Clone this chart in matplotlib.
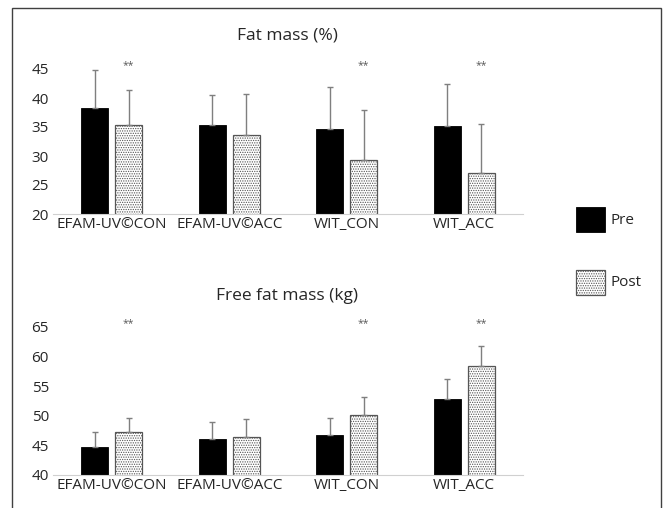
import numpy as np
import matplotlib
matplotlib.use("Agg")
import matplotlib.pyplot as plt
from matplotlib.patches import Rectangle

plt.rcParams['font.family'] = ['Open Sans', 'DejaVu Sans']
plt.rcParams['hatch.linewidth'] = 0.6

groups = ['EFAM-UV©CON', 'EFAM-UV©ACC', 'WIT_CON', 'WIT_ACC']

fat_pre = [38.3, 35.4, 34.7, 35.1]
fat_pre_err = [6.5, 5.1, 7.2, 7.3]
fat_post = [35.4, 33.7, 29.3, 27.0]
fat_post_err = [6.0, 7.0, 8.7, 8.6]
fat_sig = [True, False, True, True]

ffm_pre = [44.7, 46.0, 46.8, 52.8]
ffm_pre_err = [2.6, 2.9, 2.9, 3.4]
ffm_post = [47.2, 46.5, 50.2, 58.4]
ffm_post_err = [2.5, 3.0, 3.0, 3.4]
ffm_sig = [True, False, True, True]

W, H = 663, 508
fig = plt.figure(figsize=(W / 100, H / 100), dpi=100)

# outer frame
fig.patches.append(Rectangle((12 / W, -0.05), (661 - 12) / W, 1.05 - 8 / H,
                             transform=fig.transFigure, fill=False,
                             edgecolor='#404040', linewidth=1.0))

grey = '#7f7f7f'
txt = '#262626'


def panel(rect, title, pre, pre_err, post, post_err, sig, ylo, yhi, title_y):
    ax = fig.add_axes(rect)
    x = np.arange(len(groups))
    w = 0.23
    off = 0.143
    ax.bar(x - off, pre, w, color='black', edgecolor='black', linewidth=0.6)
    ax.bar(x + off, post, w, color='white', edgecolor='#555555', hatch='.......',
           linewidth=0.9)
    ax.errorbar(x - off, pre, yerr=[np.zeros(len(pre)), pre_err], fmt='none',
                ecolor=grey, elinewidth=1.0, capsize=2.5, capthick=1.0, clip_on=False)
    ax.errorbar(x + off, post, yerr=[np.zeros(len(post)), post_err], fmt='none',
                ecolor=grey, elinewidth=1.0, capsize=2.5, capthick=1.0, clip_on=False)
    for i, s in enumerate(sig):
        if s:
            ax.text(x[i] + off, yhi + (yhi - ylo) * 0.025, '**', ha='center', va='center',
                    fontsize=7.5, color='#595959', clip_on=False)
    ax.set_xlim(-0.5, len(groups) - 0.5)
    ax.set_ylim(ylo, yhi)
    ax.set_yticks(np.arange(ylo, yhi + 1, 5))
    ax.set_xticks(x)
    ax.set_xticklabels(groups)
    for sp in ['top', 'right', 'left']:
        ax.spines[sp].set_visible(False)
    ax.spines['bottom'].set_color('#d0d0d0')
    ax.tick_params(axis='both', length=0, labelsize=11, colors=txt, pad=2)
    ax.tick_params(axis='y', pad=3)
    fig.text(287 / W, 1 - title_y / H, title, ha='center', va='center',
             fontsize=12.5, color=txt)
    return ax


panel([53 / W, (H - 214) / H, 470 / W, (214 - 69) / H], 'Fat mass (%)',
      fat_pre, fat_pre_err, fat_post, fat_post_err, fat_sig, 20, 45, 36)
panel([53 / W, (H - 475) / H, 470 / W, (475 - 327) / H], 'Free fat mass (kg)',
      ffm_pre, ffm_pre_err, ffm_post, ffm_post_err, ffm_sig, 40, 65, 296)

# legend
fig.patches.append(Rectangle((576 / W, 1 - 232 / H), 29 / W, 25 / H,
                             transform=fig.transFigure, facecolor='black',
                             edgecolor='black', linewidth=0.6))
fig.text(611 / W, 1 - 221 / H, 'Pre', va='center', ha='left', fontsize=11, color=txt)
fig.patches.append(Rectangle((576 / W, 1 - 295 / H), 29 / W, 25 / H,
                             transform=fig.transFigure, facecolor='white',
                             edgecolor='#555555', hatch='.......', linewidth=0.9))
fig.text(611 / W, 1 - 283 / H, 'Post', va='center', ha='left', fontsize=11, color=txt)

fig.savefig('out.png', dpi=100)
